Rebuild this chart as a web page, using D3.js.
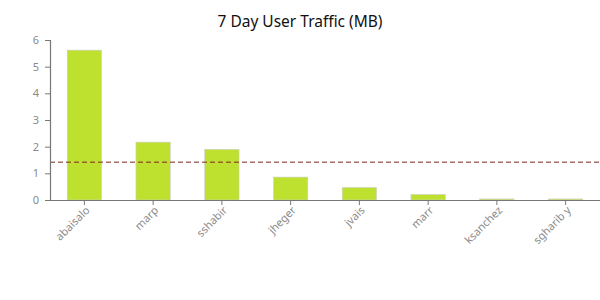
<!DOCTYPE html>
<html><head><meta charset="utf-8">
<script src="https://cdn.jsdelivr.net/npm/d3@7"></script>
<style>
body{margin:0;background:#fff;}
svg text{font-family:"Noto Sans",sans-serif;}
</style></head>
<body><svg id="c" width="600" height="300"></svg>
<script>
const users = ["abaisalo","marp","sshabir","jheger","jvais","marr","ksanchez","sgharibyan"];
const traffic = [5.62, 2.17, 1.9, 0.86, 0.47, 0.21, 0.04, 0.04];
const yTicks = [0,1,2,3,4,5,6];
const title = "7 Day User Traffic (MB)";

const svg = d3.select("#c");
const m = {l:50, r:0, t:40, b:100};
const W = 600, H = 300;
const x = d3.scaleBand().domain(users).range([m.l, W - m.r]).paddingInner(0.5).paddingOuter(0.25);
const y = d3.scaleLinear().domain([0,6]).range([H - m.b, m.t]);

svg.append("text").attr("x", 300).attr("y", 27).attr("text-anchor","middle")
  .attr("font-size", 15.5).attr("fill","#111").text(title);

svg.selectAll("rect.bar").data(users).enter().append("rect").attr("class","bar")
  .attr("x", d => x(d)).attr("width", x.bandwidth())
  .attr("y", (d,i) => y(traffic[i])).attr("height", (d,i) => y(0) - y(traffic[i]))
  .attr("fill", "#bde12e").attr("stroke", "#d0d0d0").attr("stroke-width", 0.6);

const avg = d3.mean(traffic);
svg.append("line").attr("x1", m.l).attr("x2", W).attr("y1", y(avg)).attr("y2", y(avg))
  .attr("stroke", "#853025").attr("stroke-opacity", 0.7).attr("stroke-width", 1.4)
  .attr("stroke-dasharray", "5,3");

const ya = svg.append("g").attr("transform", `translate(${m.l},0)`)
  .call(d3.axisLeft(y).tickValues(yTicks).tickFormat(d3.format("d")).tickSize(5).tickSizeOuter(5).tickPadding(6));
const xa = svg.append("g").attr("transform", `translate(0,${y(0)})`)
  .call(d3.axisBottom(x).tickSize(5).tickSizeOuter(0).tickFormat(d => d === "sgharibyan" ? "sgharib y" : d));
[ya, xa].forEach(g => {
  g.select(".domain").attr("stroke", "#777").attr("stroke-width", 1.2);
  g.selectAll(".tick line").attr("stroke", "#777");
  g.selectAll("text").attr("fill", "#8a8a8a").attr("font-size", 11).attr("font-family", "'Noto Sans',sans-serif");
});
xa.selectAll("text").attr("text-anchor","end").attr("dy", null).attr("y", 0).attr("x", 0)
  .attr("transform", "translate(6,11) rotate(-45)");
</script></body></html>
